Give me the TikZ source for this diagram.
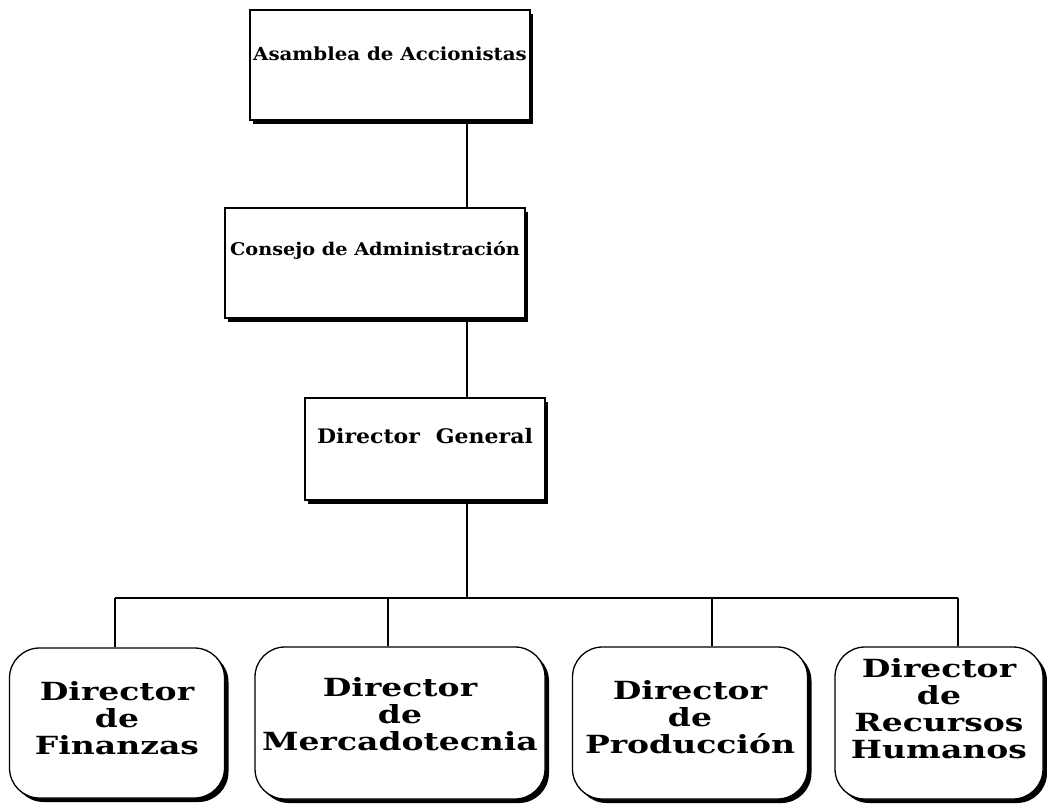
\documentclass[tikz,border=0pt]{standalone}
\usepackage{fontspec}
\setmainfont{DejaVu Serif}[FakeStretch=1.32]
\newfontfamily\fuenteCaja{DejaVu Serif}[FakeStretch=1.1]
\usetikzlibrary{shadows}

\begin{document}
\begin{tikzpicture}[x=1pt,y=-1pt]
    % Estilos
    \tikzstyle{linea}=[line width=1.2pt]
    \tikzstyle{sombra}=[drop shadow={shadow xshift=3pt,shadow yshift=-4pt,fill=black,opacity=1}]
    \tikzstyle{sombraR}=[drop shadow={shadow xshift=4pt,shadow yshift=-4pt,fill=black,opacity=1}]
    \tikzstyle{caja}=[draw,line width=1.3pt,fill=white,rectangle,inner xsep=3pt,sombra,font=\fuenteCaja\fontsize{18}{21}\selectfont\bfseries]
    \tikzstyle{cajaR}=[draw,line width=1.3pt,fill=white,rectangle,rounded corners=30pt,sombraR,align=center,font=\fontsize{25}{27}\selectfont\bfseries]
    % Marco
    \useasboundingbox (0,0) rectangle (1047,805);
    % Niveles
    \def\NivelA{65}
    \def\NivelB{263}
    \def\NivelC{449}
    \def\NivelD{723}
    % Nodos
    \node[caja,text depth=23pt,minimum width=280pt,minimum height=110pt] (A) at (390,\NivelA) {Asamblea de Accionistas};
    \node[caja,text depth=29pt,minimum width=300pt,minimum height=110pt,font=\fuenteCaja\fontsize{17.5}{21}\selectfont\bfseries] (Aa) at (375,\NivelB) {Consejo de Administración};
    \node[caja,text depth=27pt,minimum width=240pt,minimum height=102pt,font=\fuenteCaja\fontsize{20}{22}\selectfont\bfseries] (Aaa) at (425,\NivelC) {Director\hspace{16pt}General};
    \node[cajaR,text depth=10pt,minimum width=215pt,minimum height=150pt] (Aaaa) at (117,\NivelD) {Director\\de\\Finanzas};
    \node[cajaR,text depth=18pt,minimum width=290pt,minimum height=152pt] (Aaab) at (400,\NivelD) {Director\\de\\Mercadotecnia};
    \node[cajaR,text depth=12pt,minimum width=235pt,minimum height=152pt] (Aaac) at (690,\NivelD) {Director\\de\\Producción};
    \node[cajaR,text depth=30pt,minimum width=208pt,minimum height=152pt] (Aaad) at (939,\NivelD) {Director\\de\\Recursos\\Humanos};
    % Puntos de paso
    \coordinate (eje) at (467,0);
    \coordinate (b1) at (115,598);
    \coordinate (b2) at (388,598);
    \coordinate (b3) at (712,598);
    \coordinate (b4) at (958,598);
    % Lineas
    \draw[linea] (A.south -| eje) -- (Aa.north -| eje);
    \draw[linea] (Aa.south -| eje) -- (Aaa.north -| eje);
    \draw[linea] (Aaa.south -| eje) -- (b1 -| eje);
    \draw[linea] (b1) -- (b4);

    \draw[linea] (b1) -- (b1 |- Aaaa.north);
    \draw[linea] (b2) -- (b2 |- Aaab.north);
    \draw[linea] (b3) -- (b3 |- Aaac.north);
    \draw[linea] (b4) -- (b4 |- Aaad.north);
\end{tikzpicture}
\end{document}
